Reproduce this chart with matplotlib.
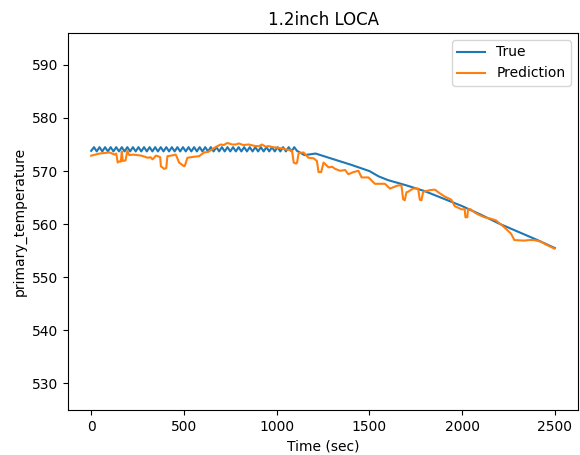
import matplotlib
matplotlib.use("Agg")
import matplotlib.pyplot as plt

# True series: oscillating plateau, then smooth decline
true_time = [0, 15, 30, 45, 60, 75, 90, 105, 120, 135, 150, 165, 180, 195, 210,
             225, 240, 255, 270, 285, 300, 315, 330, 345, 360, 375, 390, 405, 420,
             435, 450, 465, 480, 495, 510, 525, 540, 555, 570, 585, 600, 615, 630,
             645, 660, 675, 690, 705, 720, 735, 750, 765, 780, 795, 810, 825, 840,
             855, 870, 885, 900, 915, 930, 945, 960, 975, 990, 1005, 1020, 1035,
             1050, 1065, 1080, 1095, 1110,
             1150, 1210, 1300, 1400, 1500, 1550, 1600, 1700, 1800, 1900, 2000,
             2100, 2200, 2300, 2400, 2500]
true_vals = [573.8, 574.5, 573.7, 574.5, 573.7, 574.5, 573.7, 574.5, 573.7, 574.5,
             573.7, 574.5, 573.7, 574.5, 573.7, 574.5, 573.7, 574.5, 573.7, 574.5,
             573.7, 574.5, 573.7, 574.5, 573.7, 574.5, 573.7, 574.5, 573.7, 574.5,
             573.7, 574.5, 573.7, 574.5, 573.7, 574.5, 573.7, 574.5, 573.7, 574.5,
             573.7, 574.5, 573.7, 574.5, 573.7, 574.5, 573.7, 574.5, 573.7, 574.5,
             573.7, 574.5, 573.7, 574.5, 573.7, 574.5, 573.7, 574.5, 573.7, 574.5,
             573.7, 574.5, 573.7, 574.5, 573.7, 574.5, 573.7, 574.5, 573.7, 574.5,
             573.7, 574.5, 573.7, 574.5, 573.8,
             573.0, 573.3, 572.3, 571.2, 570.0, 569.0, 568.3, 567.3, 566.2, 564.8,
             563.4, 561.8, 560.1, 558.6, 557.1, 555.5]

pred_time = [0, 45, 99, 126, 135, 143, 150, 160, 165, 170, 185, 195, 205, 224, 250,
             270, 290, 304, 320, 331, 349, 360, 372, 376, 394, 405, 411, 430, 456,
             465, 474, 501, 505, 519, 537, 555, 582, 608, 630, 653, 675, 698, 715,
             734, 760, 780, 796, 820, 850, 886, 905, 921, 940, 957, 980, 1002, 1025,
             1047, 1065, 1083, 1092, 1105, 1110, 1119, 1145, 1172, 1199, 1217, 1226,
             1240, 1253, 1280, 1300, 1316, 1342, 1369, 1387, 1414, 1441, 1458, 1495,
             1530, 1584, 1611, 1655, 1673, 1682, 1691, 1700, 1709, 1736, 1763, 1772,
             1781, 1790, 1826, 1853, 1880, 1906, 1942, 1960, 1996, 2014, 2018, 2028,
             2032, 2046, 2067, 2094, 2121, 2157, 2183, 2228, 2264, 2282, 2336, 2360,
             2389, 2425, 2450, 2497]
pred_vals = [572.9, 573.3, 573.5, 573.1, 573.3, 571.6, 571.8, 571.8, 573.7, 571.9,
             572.0, 573.8, 573.0, 573.1, 573.0, 572.9, 572.7, 572.5, 572.6, 572.2,
             572.9, 572.8, 572.6, 570.9, 570.4, 570.6, 572.8, 572.9, 573.1, 572.4,
             571.6, 570.9, 571.0, 572.5, 572.6, 572.7, 572.8, 573.5, 573.6, 574.1,
             574.6, 575.0, 574.9, 575.3, 575.0, 575.0, 575.2, 574.9, 575.0, 574.7,
             574.7, 575.0, 574.6, 574.7, 574.5, 574.4, 574.3, 574.1, 574.0, 573.8,
             571.6, 571.4, 571.6, 573.4, 573.5, 572.5, 572.4, 571.9, 569.8, 569.8,
             571.6, 570.7, 570.8, 570.4, 570.05, 570.2, 569.4, 569.8, 570.05, 568.8,
             568.8, 567.6, 567.6, 566.7, 567.3, 567.3, 564.7, 564.5, 566.0, 566.1,
             566.7, 566.7, 564.6, 564.5, 566.1, 566.4, 566.5, 565.8, 565.2, 564.6,
             563.4, 562.8, 562.8, 561.3, 561.3, 562.8, 562.8, 562.2, 561.7, 561.3,
             561.0, 560.7, 559.4, 558.2, 557.0, 556.9, 557.0, 557.0, 556.7, 556.2,
             555.4]

fig = plt.figure(figsize=(5.8, 4.55), dpi=100)
ax = fig.add_axes([68 / 580, 45 / 455, 510 / 580, 377 / 455])
ax.plot(true_time, true_vals, color="#1f77b4", label="True")
ax.plot(pred_time, pred_vals, color="#ff7f0e", label="Prediction")
ax.set_ylim(525, 596)
ax.set_xlim(-125, 2625)
ax.set_title("1.2inch LOCA", fontsize=12)
ax.set_xlabel("Time (sec)", fontsize=10)
ax.set_ylabel("primary_temperature", fontsize=10)
ax.tick_params(labelsize=10)
ax.legend(loc="upper right", fontsize=10)
fig.savefig("out.png", dpi=100)
